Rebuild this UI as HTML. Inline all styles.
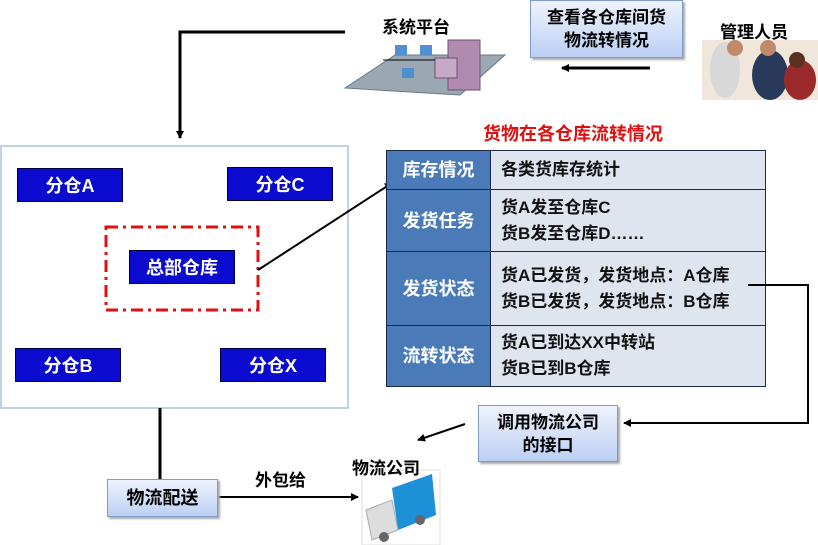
<!DOCTYPE html>
<html><head><meta charset="utf-8"><style>
body{margin:0;width:818px;height:545px;background:#fff;position:relative;overflow:hidden;font-family:"Liberation Sans","Noto Sans CJK SC",sans-serif;font-weight:bold}
.a{position:absolute}
.bb{position:absolute;background:#0b0bd0;border:1px solid #000040;color:#fff;font-size:18px;display:flex;align-items:center;justify-content:center}
.lb{position:absolute;background:linear-gradient(#eef3fd,#bcd0f4);border:1px solid #7f9bc8;box-shadow:2px 2px 2px #aaa;color:#000;font-size:17px;text-align:center;line-height:23px;display:flex;align-items:center;justify-content:center}
table{position:absolute;left:386px;top:150px;width:380px;height:237px;border-collapse:collapse;font-size:17px}
td{border:1.5px solid #1c2a4a;padding:0 10px;line-height:26px}
td.l{background:#4a7ab8;color:#fff;width:103px;text-align:center;padding:0;font-size:18px}
td.r{background:#dfe5ef;color:#111}
svg.top{z-index:5}
</style></head><body>
<svg class="a" style="left:0;top:0" width="818" height="545">
<defs><marker id="ar" markerWidth="8" markerHeight="8" refX="7" refY="4" orient="auto" markerUnits="userSpaceOnUse"><path d="M0,0L8,4L0,8z" fill="#000"/></marker></defs>
<polyline points="345,32 180,32 180,138" fill="none" stroke="#000" stroke-width="3" marker-end="url(#ar)"/>
<line x1="650" y1="68" x2="562" y2="68" stroke="#000" stroke-width="3" marker-end="url(#ar)"/>
<rect x="1" y="146" width="347" height="262" fill="none" stroke="#a9c3e0" stroke-width="1.5"/>
<rect x="106" y="227" width="152" height="83" fill="none" stroke="#e01010" stroke-width="3" stroke-dasharray="12,5,3,5"/>
<line x1="258" y1="270" x2="392" y2="183" stroke="#000" stroke-width="2" marker-end="url(#ar)"/>
<line x1="160" y1="408" x2="160" y2="479" stroke="#000" stroke-width="3"/>
<line x1="218" y1="497" x2="358" y2="497" stroke="#000" stroke-width="2" marker-end="url(#ar)"/>
<polyline points="765,285 808,285 808,423 624,423" fill="none" stroke="#000" stroke-width="2" marker-end="url(#ar)"/>
<line x1="465" y1="424" x2="418" y2="440" stroke="#000" stroke-width="2" marker-end="url(#ar)"/>
<polygon points="345,88 395,55 505,55 460,95" fill="#9aa8b4" stroke="#6a7884"/>
<rect x="448" y="40" width="32" height="50" fill="#b08ab0" stroke="#705070"/>
<rect x="435" y="58" width="22" height="20" fill="#c8a8c8" stroke="#705070"/>
<rect x="395" y="45" width="12" height="10" fill="#5090d0"/><rect x="420" y="45" width="12" height="10" fill="#5090d0"/><rect x="402" y="68" width="12" height="10" fill="#5090d0"/>
<line x1="383" y1="60" x2="435" y2="60" stroke="#000"/>
<rect x="702" y="40" width="116" height="60" fill="#f0e6dc"/>
<ellipse cx="725" cy="70" rx="15" ry="28" fill="#d8d8d8"/><ellipse cx="770" cy="75" rx="18" ry="25" fill="#2a3a5a"/><ellipse cx="800" cy="80" rx="16" ry="20" fill="#9a2a2a"/>
<circle cx="735" cy="48" r="8" fill="#c08a6a"/><circle cx="768" cy="48" r="8" fill="#c08a6a"/><circle cx="797" cy="60" r="8" fill="#5a3020"/>
<rect x="362" y="470" width="78" height="75" fill="#fff" stroke="#ddd"/>
<polygon points="392,488 432,474 436,515 398,530" fill="#1e90d8"/>
<polygon points="366,510 392,500 398,530 372,540" fill="#ddd" stroke="#aaa"/>
<circle cx="420" cy="520" r="5" fill="#666"/><circle cx="384" cy="537" r="5" fill="#666"/>
</svg>
<div class="a" style="left:382px;top:13px;font-size:17px">系统平台</div>
<div class="lb" style="left:530px;top:0;width:151px;height:56px">查看各仓库间货<br>物流转情况</div>
<div class="a" style="left:720px;top:18px;font-size:17px">管理人员</div>
<div class="a" style="left:483px;top:120px;font-size:18px;color:#e01010">货物在各仓库流转情况</div>
<div class="bb" style="left:17px;top:168px;width:104px;height:32px">分仓A</div>
<div class="bb" style="left:227px;top:167px;width:104px;height:32px">分仓C</div>
<div class="bb" style="left:129px;top:250px;width:104px;height:32px">总部仓库</div>
<div class="bb" style="left:15px;top:348px;width:104px;height:32px">分仓B</div>
<div class="bb" style="left:220px;top:348px;width:104px;height:32px">分仓X</div>
<table>
<tr style="height:39px"><td class="l">库存情况</td><td class="r">各类货库存统计</td></tr>
<tr style="height:62px"><td class="l">发货任务</td><td class="r">货A发至仓库C<br>货B发至仓库D……</td></tr>
<tr style="height:74px"><td class="l">发货状态</td><td class="r">货A已发货，发货地点：A仓库<br>货B已发货，发货地点：B仓库</td></tr>
<tr style="height:61px"><td class="l">流转状态</td><td class="r">货A已到达XX中转站<br>货B已到B仓库</td></tr>
</table>
<div class="a" style="left:748px;top:284px;width:18px;height:2px;background:#000"></div>
<div class="lb" style="left:478px;top:405px;width:138px;height:55px">调用物流公司<br>的接口</div>
<div class="a" style="left:352px;top:454px;font-size:17px">物流公司</div>
<div class="a" style="left:255px;top:466px;font-size:17px">外包给</div>
<div class="lb" style="left:107px;top:479px;width:109px;height:36px;font-size:18px">物流配送</div>
</body></html>
